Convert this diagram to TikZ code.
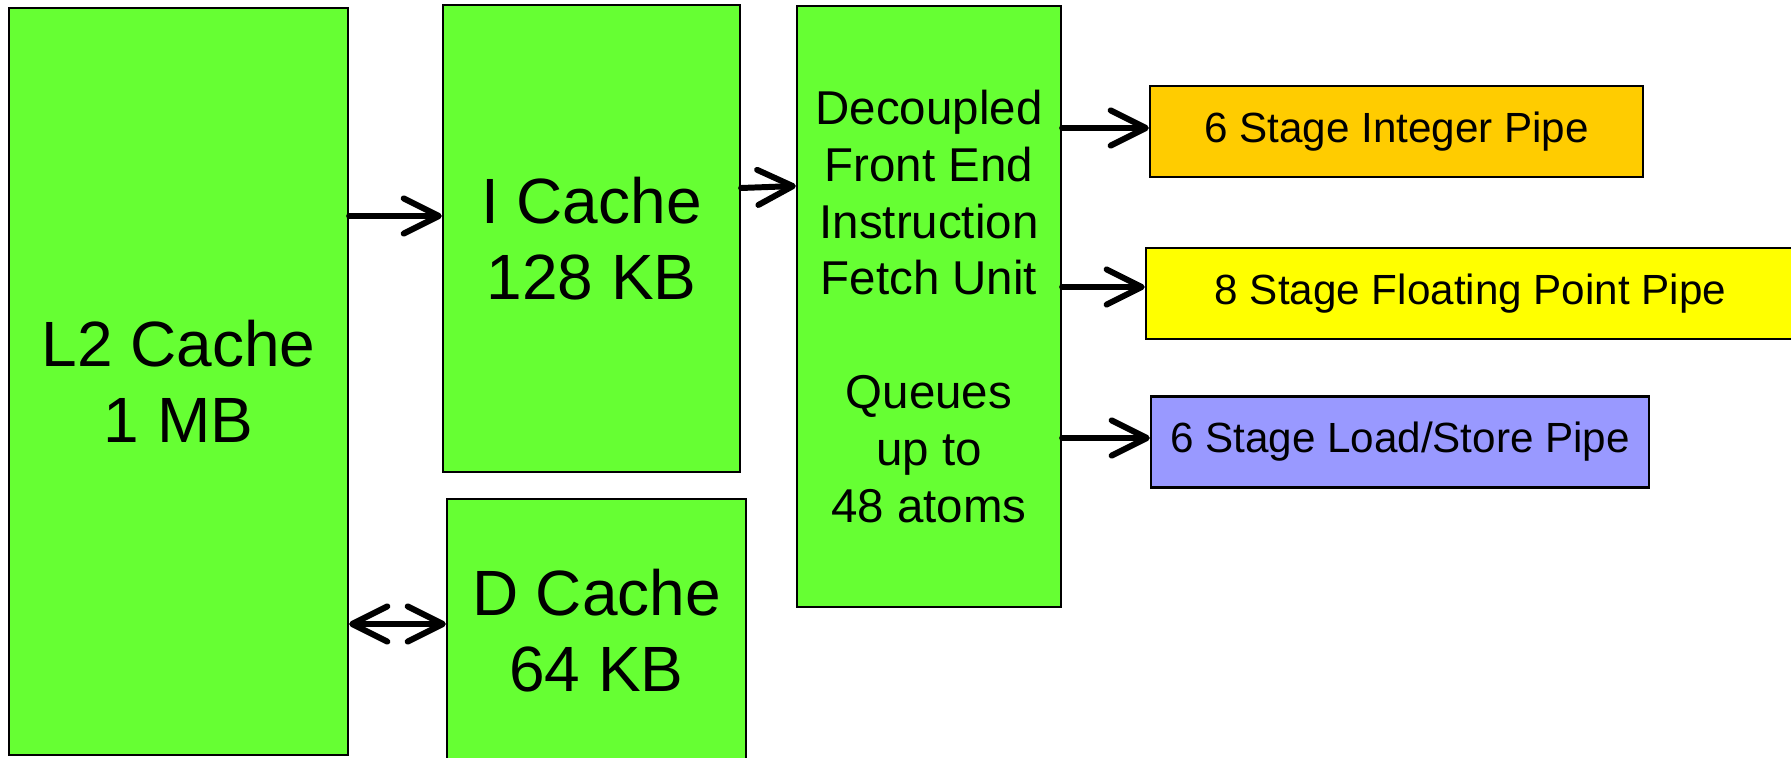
\documentclass[tikz,border=0pt]{standalone}
\usepackage{fontspec}
\setmainfont{Liberation Sans}
\usetikzlibrary{arrows.meta}
\definecolor{cachegreen}{HTML}{66FF33}
\definecolor{intorange}{HTML}{FFCC00}
\definecolor{fpyellow}{HTML}{FFFF00}
\definecolor{lslilac}{HTML}{9999FF}
\begin{document}
\begin{tikzpicture}[x=0.01cm,y=-0.01cm,
    unit/.style={draw,line width=0.6pt,inner sep=0pt,align=center,fill=cachegreen},
    bigtext/.style={font=\fontsize{18.2}{21.5}\selectfont},
    pipe/.style={draw,line width=0.6pt,inner sep=0pt,minimum height=0.91cm,font=\fontsize{12}{14}\selectfont},
    barb/.tip={Straight Barb[length=10pt,width=10pt,line cap=round,line join=round]},
    arr/.style={line width=1.7pt,line cap=round,-barb},
    biarr/.style={line width=1.7pt,line cap=round,barb-barb}]
    \useasboundingbox (0,0) rectangle (1791,758);
    % caches
    \node[unit,bigtext,minimum width=3.39cm,minimum height=7.47cm](l2) at (178.5,381.5){L2 Cache\\1 MB};
    \node[unit,bigtext,minimum width=2.97cm,minimum height=4.67cm](icache) at (591.5,238.5){I Cache\\128 KB};
    \node[unit,bigtext,minimum width=2.99cm,minimum height=2.63cm](dcache) at (596.5,630.5){D Cache\\64 KB};
    % front end
    \node[unit,minimum width=2.64cm,minimum height=6.01cm,font=\fontsize{13.5}{16.2}\selectfont](front) at (929,306.5)
        {Decoupled\\Front End\\Instruction\\Fetch Unit\\[16.2pt]Queues\\up to\\48 atoms};
    % pipes
    \node[pipe,fill=intorange,minimum width=4.93cm](intpipe) at (1396.5,131.5){6 Stage Integer Pipe};
    \node[pipe,fill=fpyellow,minimum width=6.49cm](fppipe) at (1470.5,293.5){8 Stage Floating Point Pipe};
    \node[pipe,fill=lslilac,minimum width=4.98cm](lspipe) at (1400,442){6 Stage Load/Store Pipe};
    \draw[arr](l2.east |- 0,216) -- (icache.west |- 0,216);
    \draw[biarr](l2.east |- 0,624) -- (dcache.west |- 0,624);
    \draw[arr](icache.east |- 0,188) -- (front.west |- 0,186);
    \draw[arr](front.east |- 0,128) -- (intpipe.west |- 0,128);
    \draw[arr](front.east |- 0,287) -- (fppipe.west |- 0,287);
    \draw[arr](front.east |- 0,438) -- (lspipe.west |- 0,438);
\end{tikzpicture}
\end{document}
